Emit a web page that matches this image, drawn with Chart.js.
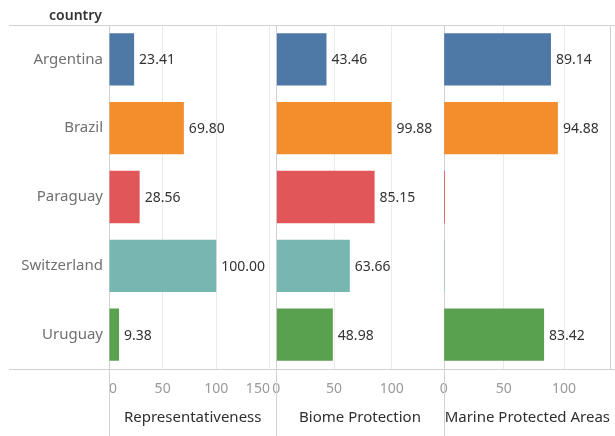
<!DOCTYPE html>
<html>
<head>
<meta charset="utf-8">
<script src="https://cdn.jsdelivr.net/npm/chart.js@4.4.1/dist/chart.umd.min.js"></script>
<style>
  html, body { margin: 0; padding: 0; background: #fff; }
  #wrap { position: relative; width: 615px; height: 436px; }
  #country {
    position: absolute; left: 0; top: 5px; width: 102px; text-align: right;
    font: 600 14px "Noto Sans"; line-height: 20px; color: #333;
  }
</style>
</head>
<body>
<div id="wrap">
  <canvas id="chart" width="615" height="436"></canvas>
  <div id="country">country</div>
</div>
<script>
// Data
const countries = ['Argentina', 'Brazil', 'Paraguay', 'Switzerland', 'Uruguay'];
const representativeness = [23.41, 69.80, 28.56, 100.00, 9.38];
const biomeProtection = [43.46, 99.88, 85.15, 63.66, 48.98];
const marineProtectedAreas = [89.14, 94.88, 1.1, 0.7, 83.42];
const measures = ['Representativeness', 'Biome Protection', 'Marine Protected Areas'];
const axisMax = [156, 145, 139];
const tickStep = 50;
const colors = ['#4e79a7', '#f28e2b', '#e15759', '#76b7b2', '#59a14f'];

const series = [representativeness, biomeProtection, marineProtectedAreas];
const FONT = 'Noto Sans';

// Panel frame lines (header line, bottom line, panel separators)
const framePlugin = {
    id: 'frame',
    beforeDatasetsDraw(chart) {
        const ctx = chart.ctx;
        const a = chart.chartArea;
        ctx.save();
        ctx.strokeStyle = '#d2d2d2';
        ctx.lineWidth = 1;
        ctx.beginPath();
        ctx.moveTo(9, Math.round(a.top) + 0.5);
        ctx.lineTo(chart.width, Math.round(a.top) + 0.5);
        ctx.moveTo(9, Math.round(a.bottom) + 0.5);
        ctx.lineTo(chart.width, Math.round(a.bottom) + 0.5);
        measures.forEach((m, i) => {
            const x = Math.round(chart.scales['x' + i].left) + 0.5;
            ctx.moveTo(x, a.top);
            ctx.lineTo(x, chart.height);
        });
        ctx.moveTo(Math.round(a.right) - 0.5, a.top);
        ctx.lineTo(Math.round(a.right) - 0.5, a.bottom);
        ctx.stroke();
        ctx.restore();
    }
};

// Value labels at the end of each bar
const valueLabels = {
    id: 'valueLabels',
    afterDatasetsDraw(chart) {
        const ctx = chart.ctx;
        ctx.save();
        ctx.font = `14px "${FONT}"`;
        ctx.fillStyle = '#333';
        ctx.textAlign = 'left';
        ctx.textBaseline = 'middle';
        chart.data.datasets.forEach((ds, i) => {
            chart.getDatasetMeta(i).data.forEach((bar, j) => {
                const v = ds.data[j];
                if (v < 2) return;   // sliver bars carry no label
                ctx.fillText(v.toFixed(2), bar.x + 5, bar.y + 1);
            });
        });
        ctx.restore();
    }
};

function xScale(i) {
    return {
        type: 'linear',
        position: 'bottom',
        stack: 'panels',
        stackWeight: 1,
        min: 0,
        max: axisMax[i],
        grid: {
            color: c => (c.tick && c.tick.value === 0) ? 'rgba(0,0,0,0)' : '#ebebeb',
            drawTicks: false
        },
        border: { display: false },
        ticks: {
            stepSize: tickStep,
            includeBounds: false,
            align: i === 0 ? 'inner' : 'center',
            padding: 12,
            maxRotation: 0,
            color: '#9a9a9a',
            font: { family: FONT, size: 14 }
        },
        title: {
            display: true,
            text: measures[i],
            color: '#2f2f2f',
            font: { family: FONT, size: 15 },
            padding: { top: 4, bottom: 9 }
        },
        afterFit: s => {
            s.height = 67;
            s.paddingLeft = 0;
            s.paddingRight = 0;
        }
    };
}

const scales = {
    y: {
        type: 'category',
        position: 'left',
        grid: { display: false, drawTicks: false },
        border: { display: false },
        ticks: {
            padding: 6,
            color: '#707070',
            font: { family: FONT, size: 15 }
        },
        afterFit: s => { s.width = 109; }
    }
};
measures.forEach((m, i) => { scales['x' + i] = xScale(i); });

new Chart(document.getElementById('chart').getContext('2d'), {
    type: 'bar',
    data: {
        labels: countries,
        datasets: series.map((d, i) => ({
            label: measures[i],
            data: d,
            xAxisID: 'x' + i,
            yAxisID: 'y',
            backgroundColor: colors,
            grouped: false,
            categoryPercentage: 1,
            barPercentage: 0.76
        }))
    },
    options: {
        indexAxis: 'y',
        responsive: false,
        animation: false,
        layout: { padding: { top: 25, right: 4, left: 0, bottom: 0 } },
        plugins: {
            legend: { display: false },
            tooltip: { enabled: false }
        },
        scales: scales
    },
    plugins: [framePlugin, valueLabels]
});
</script>
</body>
</html>
